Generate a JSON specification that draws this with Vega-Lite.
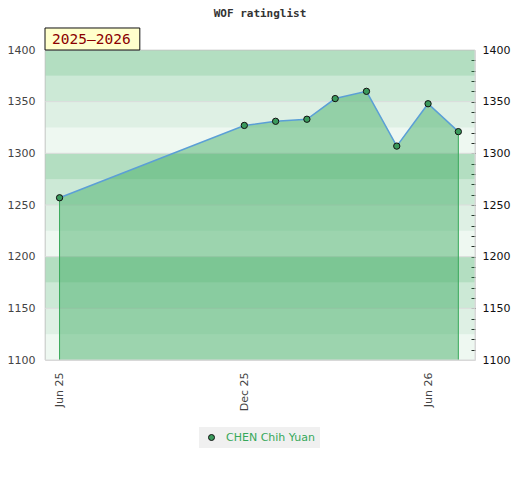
{
  "$schema": "https://vega.github.io/schema/vega-lite/v6.json",
  "description": "WOF ratinglist for CHEN Chih Yuan, 2025-2026",
  "width": 430,
  "height": 310,
  "autosize": {"type": "none"},
  "padding": {"left": 45, "top": 50, "right": 45, "bottom": 120},
  "title": {
    "text": "WOF ratinglist",
    "font": "DejaVu Sans Mono",
    "fontSize": 11,
    "fontWeight": "bold",
    "color": "#333333",
    "anchor": "middle",
    "frame": "group",
    "offset": 8
  },
  "config": {
    "font": "DejaVu Sans",
    "view": {"stroke": "#d8d8d8"},
    "axisX": {
      "title": null,
      "format": "%b %y",
      "labelAngle": -90,
      "labelColor": "#444444",
      "labelFontSize": 11,
      "labelPadding": 12,
      "ticks": false,
      "domain": false,
      "grid": false
    }
  },
  "datasets": {
    "ratings": [
      {"date": "2025-06-01", "rating": 1257, "player": "CHEN Chih Yuan"},
      {"date": "2025-12-01", "rating": 1327, "player": "CHEN Chih Yuan"},
      {"date": "2026-01-01", "rating": 1331, "player": "CHEN Chih Yuan"},
      {"date": "2026-02-01", "rating": 1333, "player": "CHEN Chih Yuan"},
      {"date": "2026-03-01", "rating": 1353, "player": "CHEN Chih Yuan"},
      {"date": "2026-04-01", "rating": 1360, "player": "CHEN Chih Yuan"},
      {"date": "2026-05-01", "rating": 1307, "player": "CHEN Chih Yuan"},
      {"date": "2026-06-01", "rating": 1348, "player": "CHEN Chih Yuan"},
      {"date": "2026-07-01", "rating": 1321, "player": "CHEN Chih Yuan"}
    ],
    "bands": [
      {"lo": 1375, "hi": 1400, "shade": "q1"},
      {"lo": 1350, "hi": 1375, "shade": "q2"},
      {"lo": 1325, "hi": 1350, "shade": "q3"},
      {"lo": 1300, "hi": 1325, "shade": "q4"},
      {"lo": 1275, "hi": 1300, "shade": "q1"},
      {"lo": 1250, "hi": 1275, "shade": "q2"},
      {"lo": 1225, "hi": 1250, "shade": "q3"},
      {"lo": 1200, "hi": 1225, "shade": "q4"},
      {"lo": 1175, "hi": 1200, "shade": "q1"},
      {"lo": 1150, "hi": 1175, "shade": "q2"},
      {"lo": 1125, "hi": 1150, "shade": "q3"},
      {"lo": 1100, "hi": 1125, "shade": "q4"}
    ],
    "grid": [
      {"v": 1150}, {"v": 1200}, {"v": 1250}, {"v": 1300}, {"v": 1350}
    ],
    "season": [
      {"label": "2025\u20132026"}
    ]
  },
  "layer": [
    {
      "data": {"name": "bands"},
      "mark": {"type": "rect", "color": "#3aa960"},
      "encoding": {
        "y": {
          "field": "lo",
          "type": "quantitative",
          "scale": {"domain": [1100, 1400], "nice": false, "zero": false},
          "axis": {
            "orient": "left",
            "title": null,
            "values": [1100, 1150, 1200, 1250, 1300, 1350, 1400],
            "format": "d",
            "grid": false,
            "ticks": false,
            "domain": false,
            "labelColor": "#444444",
            "labelFontSize": 11,
            "labelPadding": 10
          }
        },
        "y2": {"field": "hi"},
        "opacity": {
          "field": "shade",
          "type": "nominal",
          "scale": {"type": "ordinal", "domain": ["q1", "q2", "q3", "q4"], "range": [0.39, 0.26, 0.17, 0.085]},
          "legend": null
        }
      }
    },
    {
      "data": {"name": "grid"},
      "mark": {"type": "rule", "color": "#dcdcdc", "strokeWidth": 1},
      "encoding": {
        "y": {
          "field": "v",
          "type": "quantitative",
          "axis": {
            "orient": "right",
            "title": null,
            "values": [1100, 1110, 1120, 1130, 1140, 1150, 1160, 1170, 1180, 1190, 1200, 1210, 1220, 1230, 1240, 1250, 1260, 1270, 1280, 1290, 1300, 1310, 1320, 1330, 1340, 1350, 1360, 1370, 1380, 1390, 1400],
            "labelExpr": "datum.value % 50 === 0 ? format(datum.value, 'd') : ''",
            "grid": false,
            "domain": false,
            "tickSize": -4,
            "tickColor": "#222222",
            "tickOpacity": {"condition": {"test": "datum.value == 1100 || datum.value == 1400", "value": 0}, "value": 1},
            "labelColor": "#111111",
            "labelFontSize": 11,
            "labelPadding": 11
          }
        }
      }
    },
    {
      "data": {"name": "ratings"},
      "mark": {"type": "area", "color": "#3aa960", "fillOpacity": 0.46},
      "encoding": {
        "x": {
          "field": "date",
          "type": "temporal",
          "scale": {
            "type": "utc",
            "domain": [
              {"year": 2025, "month": 5, "date": 17, "hours": 14, "utc": true},
              {"year": 2026, "month": 7, "date": 17, "hours": 12, "utc": true}
            ]
          },
          "axis": {
            "values": [
              {"year": 2025, "month": 6, "date": 1, "utc": true},
              {"year": 2025, "month": 12, "date": 1, "utc": true},
              {"year": 2026, "month": 6, "date": 1, "utc": true}
            ]
          }
        },
        "y": {"field": "rating", "type": "quantitative", "axis": null},
        "y2": {"datum": 1100}
      }
    },
    {
      "data": {"name": "ratings"},
      "mark": {"type": "line", "color": "#5b9fd6", "strokeWidth": 1.5},
      "encoding": {
        "x": {"field": "date", "type": "temporal"},
        "y": {"field": "rating", "type": "quantitative", "axis": null}
      }
    },
    {
      "data": {"name": "ratings"},
      "transform": [
        {"filter": "(utcyear(datum.date) == 2025 && utcmonth(datum.date) == 5) || (utcyear(datum.date) == 2026 && utcmonth(datum.date) == 6)"}
      ],
      "mark": {"type": "rule", "color": "#38a85a", "strokeWidth": 1},
      "encoding": {
        "x": {"field": "date", "type": "temporal"},
        "y": {"field": "rating", "type": "quantitative", "axis": null},
        "y2": {"datum": 1100}
      }
    },
    {
      "data": {"name": "ratings"},
      "mark": {"type": "point", "shape": "circle", "filled": true, "size": 40, "stroke": "#111111", "strokeWidth": 1, "opacity": 1},
      "encoding": {
        "x": {"field": "date", "type": "temporal"},
        "y": {"field": "rating", "type": "quantitative", "axis": null},
        "color": {
          "field": "player",
          "type": "nominal",
          "scale": {"range": ["#3a9a5c"]},
          "legend": {
            "title": null,
            "orient": "none",
            "legendX": 154,
            "legendY": 377,
            "fillColor": "#f0f0f0",
            "padding": 5,
            "symbolType": "circle",
            "symbolSize": 36,
            "symbolStrokeColor": "#111111",
            "symbolStrokeWidth": 1,
            "symbolOffset": 2,
            "labelOffset": 9,
            "labelColor": "#36a85a",
            "labelFontSize": 11
          }
        }
      }
    },
    {
      "data": {"name": "season"},
      "mark": {"type": "rect", "fill": null, "stroke": "#d8d8d8", "strokeWidth": 1},
      "encoding": {}
    },
    {
      "data": {"name": "season"},
      "mark": {"type": "rect", "fill": "#ffffcc", "stroke": "#111111", "strokeWidth": 1},
      "encoding": {
        "x": {"datum": {"year": 2025, "month": 5, "date": 17, "hours": 14, "utc": true}, "type": "temporal"},
        "x2": {"datum": {"year": 2025, "month": 8, "date": 19, "hours": 12, "utc": true}},
        "y": {"datum": 1400, "type": "quantitative", "axis": null},
        "y2": {"datum": 1421.3}
      }
    },
    {
      "data": {"name": "season"},
      "mark": {"type": "text", "font": "DejaVu Sans Mono", "fontSize": 14.5, "color": "#8b0000", "align": "center", "baseline": "middle"},
      "encoding": {
        "x": {"datum": {"year": 2025, "month": 7, "date": 2, "hours": 12, "utc": true}, "type": "temporal"},
        "y": {"datum": 1409.8, "type": "quantitative", "axis": null},
        "text": {"field": "label"}
      }
    }
  ]
}
